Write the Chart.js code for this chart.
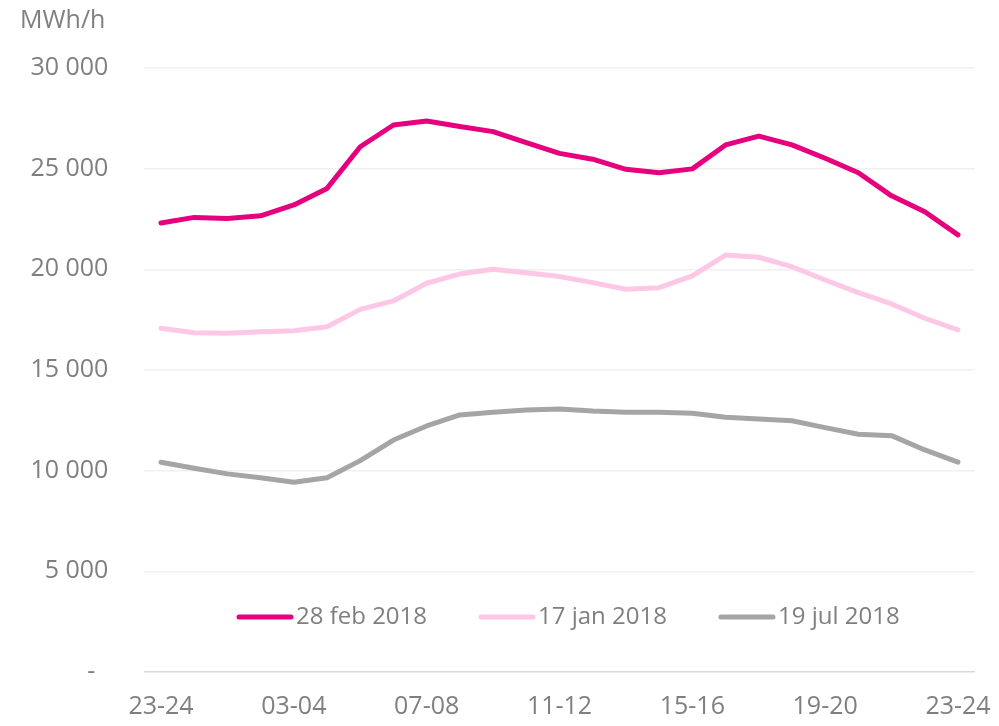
<!DOCTYPE html>
<html>
<head>
<meta charset="utf-8">
<script src="https://cdn.jsdelivr.net/npm/chart.js@4/dist/chart.umd.min.js"></script>
<style>
  html, body { margin: 0; padding: 0; background: #ffffff; }
  #wrap { width: 999px; height: 726px; position: relative; }
</style>
</head>
<body>
<div id="wrap"><canvas id="c" width="999" height="726"></canvas></div>
<script>
const categories = ['23-24','00-01','01-02','02-03','03-04','04-05','05-06','06-07','07-08','08-09','09-10','10-11','11-12','12-13','13-14','14-15','15-16','16-17','17-18','18-19','19-20','20-21','21-22','22-23','23-24'];
const seriesNames = ['28 feb 2018', '17 jan 2018', '19 jul 2018'];
const feb28 = [22300, 22580, 22530, 22660, 23200, 24020, 26090, 27170, 27370, 27090, 26840, 26290, 25760, 25470, 24970, 24800, 24990, 26180, 26620, 26180, 25520, 24800, 23650, 22860, 21710];
const jan17 = [17070, 16850, 16820, 16900, 16950, 17150, 18010, 18430, 19310, 19770, 20000, 19830, 19640, 19340, 19010, 19090, 19670, 20710, 20600, 20130, 19470, 18840, 18280, 17570, 16990];
const jul19 = [10420, 10120, 9840, 9650, 9420, 9650, 10500, 11520, 12220, 12770, 12900, 13010, 13060, 12960, 12900, 12900, 12850, 12650, 12570, 12480, 12140, 11810, 11740, 11030, 10420];
const yTicks = [0, 5000, 10000, 15000, 20000, 25000, 30000];
const unitLabel = 'MWh/h';

const FONT = '"Open Sans", "Noto Sans", sans-serif';
const TEXT = '#7f7f7f';
const colors = ['#e6007e', '#fdc8e6', '#a5a5a5'];

function fmt(v) {
  if (v === 0) return '-  ';
  return String(v).replace(/\B(?=(\d{3})+(?!\d))/g, ' ');
}

const legendPlugin = {
  id: 'insideLegend',
  afterDraw(chart) {
    const ctx = chart.ctx;
    const ca = chart.chartArea;
    ctx.save();
    ctx.font = '24px ' + FONT;
    ctx.textBaseline = 'middle';
    ctx.textAlign = 'left';
    let x = ca.left + 92.6;
    const y = ca.bottom - 55;
    chart.data.datasets.forEach((ds) => {
      ctx.strokeStyle = ds.borderColor;
      ctx.lineWidth = 5;
      ctx.lineCap = 'round';
      ctx.beginPath();
      ctx.moveTo(x + 2, y);
      ctx.lineTo(x + 54, y);
      ctx.stroke();
      ctx.fillStyle = TEXT;
      ctx.fillText(ds.label, x + 59, y);
      x += 59 + ctx.measureText(ds.label).width + 52;
    });
    ctx.restore();
  }
};

const data = [feb28, jan17, jul19];
new Chart(document.getElementById('c'), {
  type: 'line',
  data: {
    labels: categories,
    datasets: seriesNames.map((n, i) => ({
      label: n,
      data: data[i],
      order: i,
      borderColor: colors[i],
      backgroundColor: colors[i],
      borderWidth: 5,
      pointRadius: 0,
      tension: 0,
      borderCapStyle: 'round',
      borderJoinStyle: 'round',
      fill: false
    }))
  },
  options: {
    responsive: false,
    animation: false,
    devicePixelRatio: 1,
    layout: { padding: { left: 20, right: 24.4, top: 0, bottom: 0 } },
    plugins: {
      legend: { display: false },
      tooltip: { enabled: false },
      title: {
        display: true,
        text: unitLabel,
        align: 'start',
        color: TEXT,
        font: { family: FONT, size: 25, weight: 'normal', lineHeight: 1.2 },
        padding: { top: 6, bottom: 32 }
      }
    },
    scales: {
      x: {
        offset: true,
        grid: { display: false, drawTicks: false },
        border: { display: true, color: '#d9d9d9', width: 1.5 },
        ticks: {
          autoSkip: false,
          maxRotation: 0,
          minRotation: 0,
          padding: 20,
          color: TEXT,
          font: { family: FONT, size: 25 },
          callback: function(v, i) { return i % 4 === 0 ? categories[i] : ''; }
        },
        afterFit(s) { s.height = 54; s.paddingLeft = 0; s.paddingRight = 0; }
      },
      y: {
        min: 0,
        max: 30000,
        afterBuildTicks(s) { s.ticks = yTicks.map(v => ({ value: v })); },
        grid: {
          drawTicks: false,
          color: (c) => c.tick && c.tick.value === 0 ? 'rgba(0,0,0,0)' : '#f0f0f0',
          lineWidth: 1.5
        },
        border: { display: false },
        ticks: {
          padding: 36,
          color: TEXT,
          font: { family: FONT, size: 25 },
          callback: (v) => fmt(v)
        },
        afterFit(s) { s.width = 124.4; }
      }
    }
  },
  plugins: [legendPlugin]
});
</script>
</body>
</html>
